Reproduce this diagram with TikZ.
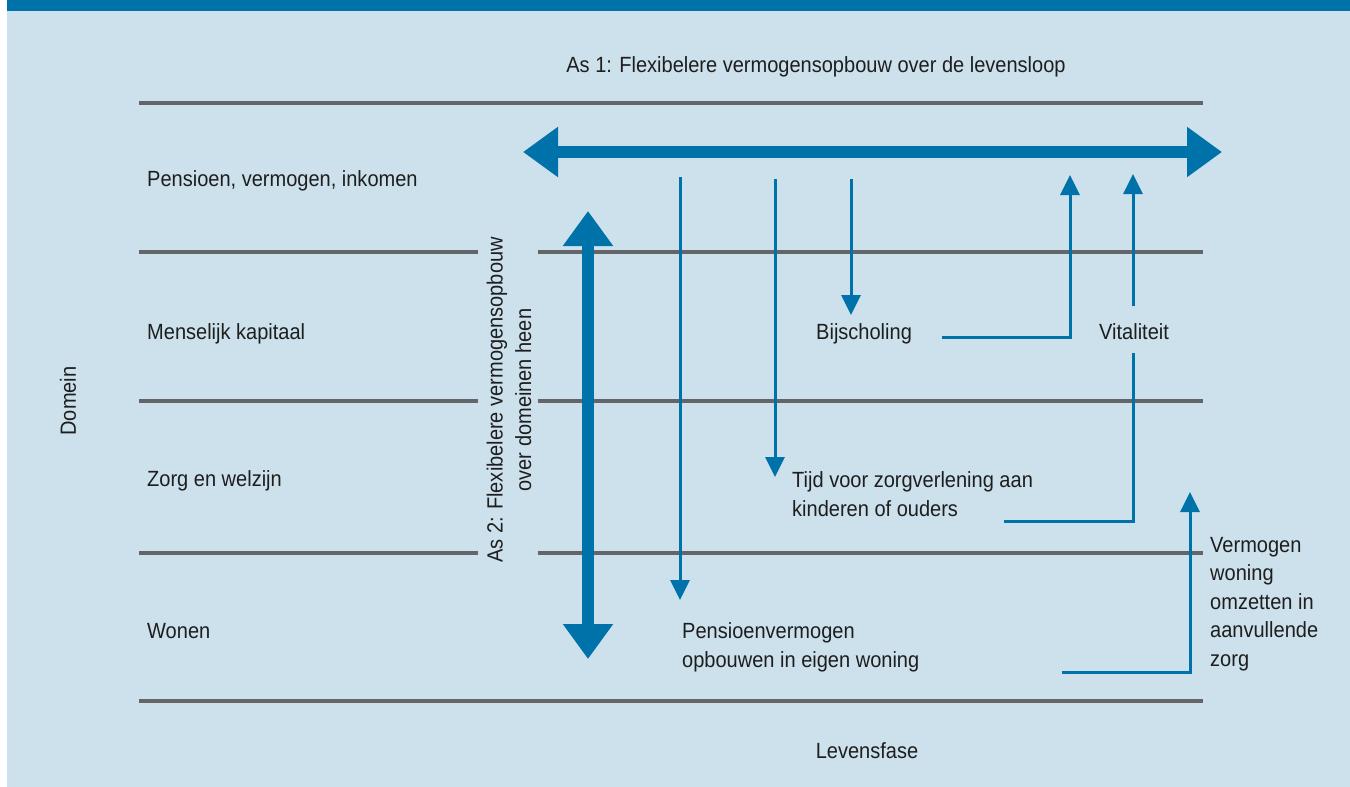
\documentclass[tikz,border=0pt]{standalone}
\usepackage{fontspec}
\setmainfont{Liberation Sans}[FakeStretch=0.91]
\usetikzlibrary{arrows.meta}
\definecolor{bg}{RGB}{204,225,236}
\definecolor{dblue}{RGB}{0,114,170}
\definecolor{lgray}{RGB}{100,101,105}
\definecolor{tx}{RGB}{30,30,30}
\begin{document}
\begin{tikzpicture}[x=1pt,y=-1pt,
  txt/.style={font=\fontsize{22}{28.5}\selectfont, inner sep=0pt, text=tx},
  gridline/.style={lgray, line width=4pt},
  thinarrow/.style={dblue, line width=3pt, -{Triangle[length=20pt,width=19pt]}},
  plainline/.style={dblue, line width=3pt},
  bigarrow/.style={dblue, line width=12.5pt, {Triangle[length=35pt,width=48pt]}-{Triangle[length=35pt,width=48pt]}}]
\useasboundingbox (0,0) rectangle (1350,787);
\fill[white] (0,0) rectangle (1350,787);
\fill[bg] (7,0) rectangle (1350,787);
\fill[dblue] (7,0) rectangle (1350,10.7);
% grid lines
\draw[gridline] (139,103) -- (1203,103);
\draw[gridline] (139,252) -- (478,252) (538,252) -- (1203,252);
\draw[gridline] (139,401) -- (478,401) (538,401) -- (1203,401);
\draw[gridline] (139,553) -- (478,553) (538,553) -- (1203,553);
\draw[gridline] (139,701) -- (1203,701);
% titles
\node[txt, anchor=base] (as1) at (816,72) {As 1: Flexibelere vermogensopbouw over de levensloop};
\node[txt, anchor=base] (lev) at (867,758) {Levensfase};
\node[txt, rotate=90] (dom) at (68,401) {Domein};
\node[txt, rotate=90, align=center] (as2) at (509,400) {As 2: Flexibelere vermogensopbouw\\over domeinen heen};
% domain labels
\node[txt, anchor=base west] (d1) at (147,186) {Pensioen, vermogen, inkomen};
\node[txt, anchor=base west] (d2) at (147,339) {Menselijk kapitaal};
\node[txt, anchor=base west] (d3) at (147,486) {Zorg en welzijn};
\node[txt, anchor=base west] (d4) at (147,638) {Wonen};
% item labels
\node[txt, anchor=base west] (bij) at (816,339) {Bijscholing};
\node[txt, anchor=base west] (vit) at (1099,339) {Vitaliteit};
\node[txt, anchor=base west, align=left] (tijd) at (792,516) {Tijd voor zorgverlening aan\\kinderen of ouders};
\node[txt, anchor=base west, align=left] (pens) at (682,667) {Pensioenvermogen\\opbouwen in eigen woning};
\node[txt, anchor=base west, align=left] (verm) at (1210,666) {Vermogen\\woning\\omzetten in\\aanvullende\\zorg};
% big arrows
\coordinate (hl) at (523,152); \coordinate (hr) at (1222,152);
\coordinate (vt) at (588,211); \coordinate (vb) at (588,659);
\draw[bigarrow] (hl) -- (hr);
\draw[bigarrow] (vt) -- (vb);
% thin arrows
\coordinate (p1) at (680,177); \coordinate (p1e) at (680,600);
\coordinate (p2) at (775,179); \coordinate (p2e) at (775,477);
\coordinate (p3) at (851,179); \coordinate (p3e) at (851,315);
\draw[thinarrow] (p1) -- (p1e);
\draw[thinarrow] (p2) -- (p2e);
\draw[thinarrow] (p3) -- (p3e);
\coordinate (b1) at (942,337); \coordinate (b2) at (1070,175);
\draw[thinarrow] (b1) -| (b2);
\coordinate (v1) at (1133,306); \coordinate (v2) at (1133,174);
\draw[thinarrow] (v1) -- (v2);
\coordinate (v3) at (1133,353); \coordinate (v4) at (1004,521);
\draw[plainline] (v3) |- (v4);
\coordinate (w1) at (1062,672); \coordinate (w2) at (1190,492);
\draw[thinarrow] (w1) -| (w2);
\end{tikzpicture}
\end{document}
